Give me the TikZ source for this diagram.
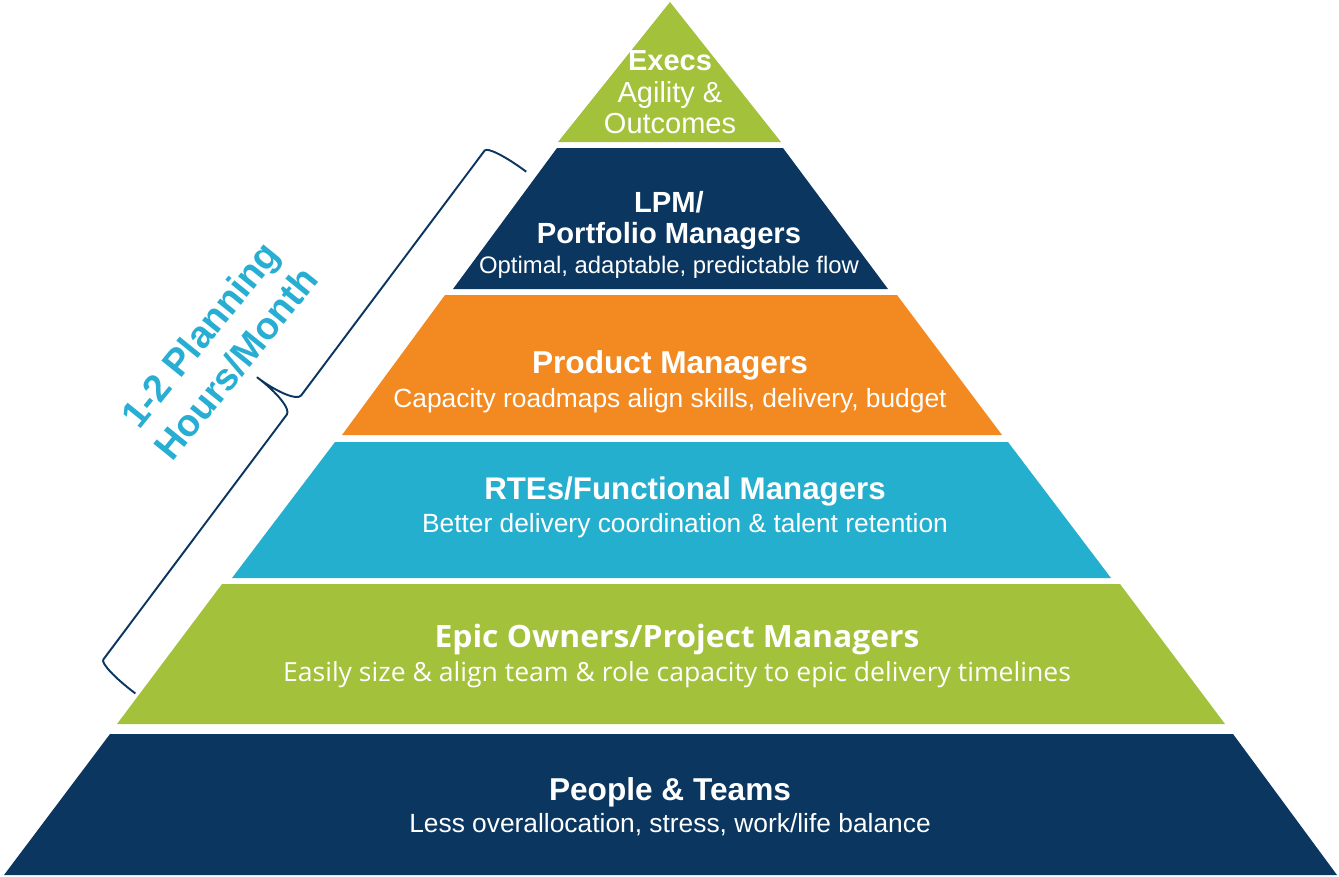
\documentclass[tikz,border=0pt]{standalone}
\usepackage{fontspec}
\usepackage{graphicx}
\setmainfont{Liberation Sans}
\newfontfamily\opensans{Open Sans}
\definecolor{navyc}{HTML}{0A3660}
\definecolor{greenc}{HTML}{A3C13B}
\definecolor{orangec}{HTML}{F28A21}
\definecolor{bluec}{HTML}{25AFCF}
\definecolor{labelc}{HTML}{27AED2}
\begin{document}
\begin{tikzpicture}[x=0.02cm,y=-0.02cm,
  lbl/.style={inner sep=0pt, anchor=base, text=white},
  head/.style={lbl, font=\fontsize{#1}{#1}\selectfont\bfseries},
  sub/.style={lbl, font=\fontsize{#1}{#1}\selectfont},
  bracestyle/.style={draw=navyc, line width=1.1pt, line join=round}]
\useasboundingbox (0,0) rectangle (1339,876);
% layers
\fill[greenc] (670,2) -- (558,142) -- (781,142) -- cycle;
\fill[navyc] (557,148) -- (783,148) -- (888,289) -- (453,289) -- cycle;
\fill[orangec] (445,295) -- (897,295) -- (1002,435) -- (342,435) -- cycle;
\fill[bluec] (335,442) -- (1008,442) -- (1111,578) -- (232,578) -- cycle;
\fill[greenc] (222,584) -- (1120,584) -- (1225,724) -- (117,724) -- cycle;
\fill[navyc] (110,734) -- (1233,734) -- (1337,875) -- (4,875) -- cycle;
% texts
\node[head=16.5] (execs) at (670,70) {Execs};
\node[sub=16.5] (execs2) at (670,102) {Agility \&};
\node[sub=16.5] (execs3) at (670,133) {Outcomes};
\node[head=16.6] (lpm1) at (669,212) {LPM/};
\node[head=16.6] (lpm2) at (669,243) {Portfolio Managers};
\node[sub=13.6] (lpm3) at (669,273) {Optimal, adaptable, predictable flow};
\node[head=18] (pm1) at (670,373) {Product Managers};
\node[sub=15] (pm2) at (670,407) {Capacity roadmaps align skills, delivery, budget};
\node[head=17.8] (rte1) at (685,499) {RTEs/Functional Managers};
\node[sub=15] (rte2) at (685,532) {Better delivery coordination \& talent retention};
\node[lbl, font=\opensans\bfseries\fontsize{17.5}{17.5}\selectfont] (epic1) at (677,647) {\resizebox{9.7cm}{\height}{Epic Owners/Project Managers}};
\node[lbl, font=\opensans\fontsize{15}{15}\selectfont] (epic2) at (677,681) {\resizebox{15.76cm}{\height}{Easily size \& align team \& role capacity to epic delivery timelines}};
\node[head=18] (pt1) at (670,800) {People \& Teams};
\node[sub=15] (pt2) at (670,832) {Less overallocation, stress, work/life balance};
% side label
\node[rotate=51, text=labelc, inner sep=0pt, align=center, font=\fontsize{21.6}{26.2}\selectfont\bfseries] (plan) at (218,349) {1-2 Planning\\Hours/Month};
% brace
\begin{scope}[shift={(294,405)}, x={(-0.012cm,-0.016cm)}, y={(-0.016cm,0.012cm)}]
\draw[bracestyle] (-326,-46) .. controls (-326,-20.6) and (-322.4,0) .. (-318,0) -- (-12,0) .. controls (-5.4,0) and (0,20.6) .. (0,46) .. controls (0,20.6) and (5.4,0) .. (12,0) -- (318,0) .. controls (322.4,0) and (326,-20.6) .. (326,-46);
\end{scope}
\end{tikzpicture}
\end{document}
